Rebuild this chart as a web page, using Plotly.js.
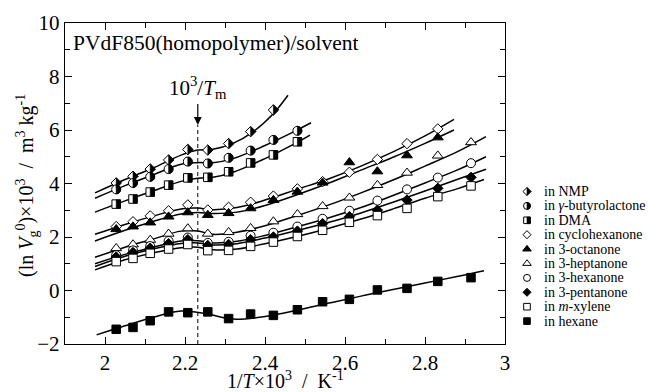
<!DOCTYPE html>
<html><head><meta charset="utf-8">
<script src="https://cdn.plot.ly/plotly-3.0.1.min.js"></script>
<style>html,body{margin:0;padding:0;background:#fff}</style>
</head><body>
<div id="chart" style="width:648px;height:392px"></div>
<script>
// x values: 1/T x 10^3 (K^-1)
const invT = [2.028, 2.070, 2.113, 2.159, 2.207, 2.257, 2.309, 2.364, 2.421, 2.481, 2.544, 2.611, 2.681, 2.755, 2.832, 2.915];

// measured points (ln Vg0) x 10^3
const yNMP    = [4.02, 4.27, 4.54, 4.88, 5.27, 5.25, 5.49, 5.94, 6.75];
const yBut    = [3.78, 4.02, 4.25, 4.54, 4.82, 4.75, 4.96, 5.23, 5.63, 5.97];
const yDMA    = [3.23, 3.42, 3.68, 3.94, 4.21, 4.23, 4.44, 4.77, 5.07, 5.56];
const yCyc    = [2.39, 2.57, 2.79, 2.98, 3.20, 3.01, 3.11, 3.30, 3.53, 3.80, 4.07, 4.42, 4.90, 5.49, 6.04];
const yOct    = [2.29, 2.39, 2.54, 2.76, 2.92, 2.82, 2.89, 3.07, 3.38, 3.69, 4.03, 4.79, 4.45, 5.05, 5.72];
const yHep    = [1.58, 1.72, 1.89, 2.12, 2.32, 2.12, 2.18, 2.33, 2.58, 2.85, 3.15, 3.47, 3.94, 4.40, 5.04, 5.54];
const yHex    = [1.32, 1.50, 1.66, 1.85, 1.98, 1.78, 1.82, 2.05, 2.16, 2.39, 2.68, 2.98, 3.36, 3.78, 4.22, 4.76];
const yPen    = [1.25, 1.42, 1.58, 1.75, 1.90, 1.68, 1.72, 1.90, 2.00, 2.22, 2.50, 2.76, 3.00, 3.38, 3.82, 4.23];
const yXyl    = [1.08, 1.20, 1.39, 1.55, 1.72, 1.49, 1.50, 1.65, 1.81, 2.02, 2.25, 2.55, 2.80, 3.07, 3.51, 3.91];
const yHexane = [-1.45, -1.38, -1.13, -0.80, -0.83, -0.80, -1.05, -0.88, -0.93, -0.72, -0.42, -0.33, 0.02, 0.08, 0.34, 0.48];

// fitted curves
const fitNMPx = [1.975, 2.05, 2.12, 2.19, 2.232, 2.27, 2.32, 2.37, 2.42, 2.4575];
const fitNMPy = [3.65, 4.15, 4.58, 5.06, 5.25, 5.28, 5.50, 5.93, 6.60, 7.30];
const fitButx = [1.975, 2.05, 2.12, 2.19, 2.232, 2.27, 2.32, 2.40, 2.47, 2.515];
const fitButy = [3.45, 3.92, 4.32, 4.72, 4.78, 4.78, 4.93, 5.42, 5.92, 6.27];
const fitDMAx = [1.975, 2.05, 2.12, 2.19, 2.232, 2.27, 2.32, 2.40, 2.47, 2.5125];
const fitDMAy = [2.93, 3.35, 3.72, 4.08, 4.20, 4.23, 4.42, 4.93, 5.45, 5.81];
const fitMidx = [1.975, 2.05, 2.12, 2.19, 2.232, 2.27, 2.33, 2.40, 2.48, 2.56, 2.64, 2.72, 2.80, 2.8725];
const fitCycy = [2.10, 2.47, 2.78, 3.05, 3.08, 3.02, 3.10, 3.38, 3.78, 4.18, 4.65, 5.18, 5.78, 6.40];
const fitOcty = [1.85, 2.25, 2.58, 2.86, 2.92, 2.88, 2.93, 3.18, 3.58, 4.02, 4.50, 4.98, 5.50, 6.00];
const fitLowx = [1.975, 2.05, 2.12, 2.19, 2.232, 2.27, 2.33, 2.40, 2.48, 2.56, 2.64, 2.72, 2.80, 2.88, 2.9525];
const fitHepy = [1.24, 1.62, 1.92, 2.22, 2.22, 2.10, 2.18, 2.42, 2.80, 3.20, 3.65, 4.13, 4.65, 5.18, 5.75];
const fitHexy = [1.00, 1.35, 1.62, 1.85, 1.86, 1.78, 1.84, 2.06, 2.38, 2.72, 3.10, 3.55, 4.02, 4.50, 5.00];
const fitPeny = [0.90, 1.28, 1.55, 1.76, 1.78, 1.70, 1.75, 1.96, 2.24, 2.55, 2.90, 3.30, 3.72, 4.15, 4.53];
const fitXylx = [1.975, 2.05, 2.12, 2.19, 2.232, 2.27, 2.33, 2.40, 2.48, 2.56, 2.64, 2.72, 2.80, 2.88, 2.9475];
const fitXyly = [0.77, 1.15, 1.40, 1.60, 1.62, 1.52, 1.55, 1.75, 2.02, 2.33, 2.67, 3.05, 3.45, 3.80, 4.15];
const fitHexanex = [1.979, 2.05, 2.12, 2.19, 2.25, 2.32, 2.40, 2.48, 2.56, 2.64, 2.72, 2.80, 2.88, 2.9475];
const fitHexaney = [-1.66, -1.32, -1.00, -0.77, -0.86, -1.07, -0.97, -0.74, -0.47, -0.21, 0.04, 0.28, 0.52, 0.74];

const seriesNames = ['in NMP', 'in <i>γ</i>-butyrolactone', 'in DMA', 'in cyclohexanone', 'in 3-octanone',
  'in 3-heptanone', 'in 3-hexanone', 'in 3-pentanone', 'in <i>m</i>-xylene', 'in hexane'];
const seriesY = [yNMP, yBut, yDMA, yCyc, yOct, yHep, yHex, yPen, yXyl, yHexane];
const fitsX = [fitNMPx, fitButx, fitDMAx, fitMidx, fitMidx, fitLowx, fitLowx, fitLowx, fitXylx, fitHexanex];
const fitsY = [fitNMPy, fitButy, fitDMAy, fitCycy, fitOcty, fitHepy, fitHexy, fitPeny, fitXyly, fitHexaney];

const Tm = 2.232;      // 10^3/Tm
const TmArrowY = 6.19;

const SERIF = '"Liberation Serif", "Times New Roman", Times, serif';

// styles
const styles = [
  {sym:'diamond', fill:'white', half:true},
  {sym:'circle', fill:'white', half:true},
  {sym:'square', fill:'white', half:true},
  {sym:'diamond', fill:'white'},
  {sym:'triangle-up', fill:'black'},
  {sym:'triangle-up', fill:'white'},
  {sym:'circle', fill:'white'},
  {sym:'diamond', fill:'black'},
  {sym:'square', fill:'white'},
  {sym:'square', fill:'black'}
];
const sizeMain = {'diamond':8, 'circle':9, 'square':8.5, 'triangle-up':9.5};
const sizeLeg = {'diamond':6.2, 'circle':7, 'square':6.6, 'triangle-up':7.5};

function halfPath(sym, size) {
  const r = size / 2;
  if (sym === 'diamond') {
    const d = (1.3 * r).toFixed(2);
    return `M0,-${d} L${d},0 L0,${d} Z`;
  }
  if (sym === 'circle') {
    const k = (0.5523 * r).toFixed(2), rr = r.toFixed(2);
    return `M0,-${rr} C${k},-${rr} ${rr},-${k} ${rr},0 C${rr},${k} ${k},${rr} 0,${rr} Z`;
  }
  const s = r.toFixed(2);
  return `M0,-${s} H${s} V${s} H0 Z`;
}

const traces = [];
const shapes = [];
const annotations = [];

// fitted lines
fitsX.forEach((fx, i) => {
  traces.push({x: fx, y: fitsY[i], mode: 'lines', type: 'scatter',
    line: {color: 'black', width: 1.5, shape: 'spline', smoothing: 1},
    hoverinfo: 'skip', showlegend: false, xaxis: 'x', yaxis: 'y'});
});

// data markers
seriesY.forEach((ys, i) => {
  const st = styles[i];
  const xs = invT.slice(0, ys.length);
  traces.push({x: xs, y: ys, mode: 'markers', type: 'scatter', name: seriesNames[i],
    marker: {symbol: st.sym, size: sizeMain[st.sym], color: st.fill, line: {color: 'black', width: 1}},
    showlegend: false, xaxis: 'x', yaxis: 'y'});
  if (st.half) {
    xs.forEach((xv, j) => {
      shapes.push({type: 'path', xref: 'x', yref: 'y', xsizemode: 'pixel', ysizemode: 'pixel',
        xanchor: xv, yanchor: ys[j], path: halfPath(st.sym, sizeMain[st.sym]),
        fillcolor: 'black', line: {color: 'black', width: 0.6}, layer: 'above'});
    });
  }
});

// custom legend on a pixel-mapped helper axis
const legX0 = 8.6, legTextX = 23.5, legY0 = 191.5, legDy = 14.4;
seriesNames.forEach((nm, i) => {
  const st = styles[i];
  const yy = legY0 + i * legDy;
  traces.push({x: [legX0], y: [yy], mode: 'markers', type: 'scatter',
    marker: {symbol: st.sym, size: sizeLeg[st.sym], color: st.fill, line: {color: 'black', width: 1}},
    showlegend: false, hoverinfo: 'skip', xaxis: 'x3', yaxis: 'y3'});
  if (st.half) {
    shapes.push({type: 'path', xref: 'x3', yref: 'y3', xsizemode: 'pixel', ysizemode: 'pixel',
      xanchor: legX0, yanchor: yy, path: halfPath(st.sym, sizeLeg[st.sym]),
      fillcolor: 'black', line: {color: 'black', width: 0.6}, layer: 'above'});
  }
  annotations.push({xref: 'x3', yref: 'y3', x: legTextX, y: yy, xanchor: 'left', yanchor: 'middle',
    text: nm, showarrow: false, font: {family: SERIF, size: 14, color: 'black'}});
});

// Tm marker
shapes.push({type: 'line', xref: 'x', yref: 'y', x0: Tm, x1: Tm, y0: -2, y1: TmArrowY,
  line: {color: 'black', width: 1, dash: '4px,3px'}, layer: 'below'});
annotations.push({xref: 'x', yref: 'y', x: Tm, y: TmArrowY, ax: 0, ay: -37,
  text: '10<sup>3</sup>/<i>T</i><sub>m</sub>', showarrow: true, arrowhead: 2, arrowsize: 1.3,
  arrowwidth: 1.2, arrowcolor: 'black', font: {family: SERIF, size: 21, color: 'black'}});

// title inside plot
annotations.push({xref: 'paper', yref: 'paper', x: 71/648, y: 1 - 43/392, xanchor: 'left', yanchor: 'middle',
  text: 'PVdF850(homopolymer)/solvent', showarrow: false,
  font: {family: SERIF, size: 21.5, color: 'black'}});

// axis titles
annotations.push({xref: 'paper', yref: 'paper', x: 27/648, y: 1 - 186/392, xanchor: 'center', yanchor: 'middle',
  textangle: -90, showarrow: false,
  text: '(ln <i>V</i><sub>g</sub><sup>0</sup>)×10<sup>3</sup>  /  m<sup>3</sup> kg<sup>-1</sup>',
  font: {family: SERIF, size: 20, color: 'black'}});
annotations.push({xref: 'paper', yref: 'paper', x: 285/648, y: 1 - 380/392, xanchor: 'center', yanchor: 'middle',
  showarrow: false, text: '1/<i>T</i>×10<sup>3</sup>  /  K<sup>-1</sup>',
  font: {family: SERIF, size: 20, color: 'black'}});

const axCommon = {showgrid: false, zeroline: false, showline: true, linecolor: 'black', linewidth: 1.2,
  mirror: 'allticks', ticks: 'inside', ticklen: 7, tickwidth: 1, tickcolor: 'black',
  tickfont: {family: SERIF, size: 21, color: 'black'}};

const layout = {
  width: 648, height: 392, margin: {l: 0, r: 0, t: 0, b: 0},
  font: {family: SERIF, color: 'black'},
  paper_bgcolor: 'white', plot_bgcolor: 'white', showlegend: false,
  xaxis: Object.assign({}, axCommon, {domain: [65/648, 505/648], range: [1.9, 3.0], tickmode: 'linear',
    tick0: 2.0, dtick: 0.2, anchor: 'y', automargin: false,
    minor: {dtick: 0.1, ticks: 'inside', ticklen: 5, tickcolor: 'black', showgrid: false}}),
  yaxis: Object.assign({}, axCommon, {domain: [48/392, 369/392], range: [-2, 10], tickmode: 'linear',
    tick0: 0, dtick: 2, anchor: 'x', automargin: false,
    minor: {dtick: 1, ticks: 'inside', ticklen: 5, tickcolor: 'black', showgrid: false}}),
  xaxis3: {domain: [518.4/648, 1], range: [0, 129.6], visible: false, anchor: 'y3', fixedrange: true},
  yaxis3: {domain: [0, 1], range: [392, 0], visible: false, anchor: 'x3', fixedrange: true},
  shapes: shapes, annotations: annotations
};

Plotly.newPlot('chart', traces, layout, {staticPlot: true, displayModeBar: false});
</script>
</body></html>
